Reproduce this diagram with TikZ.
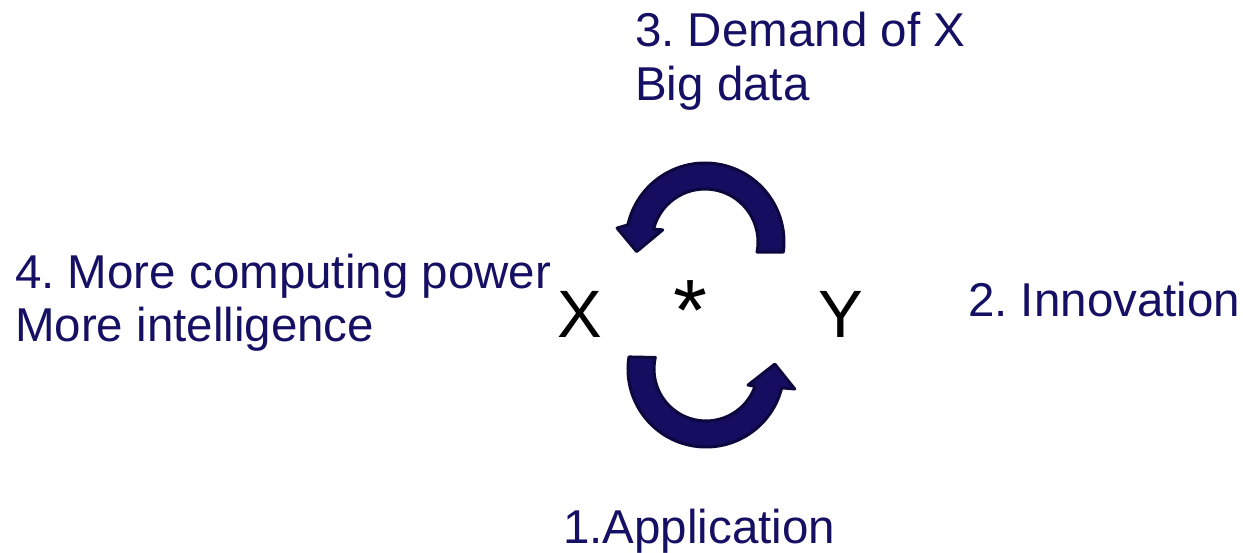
\documentclass[tikz,border=0pt]{standalone}
\usepackage{fontspec}
\setmainfont{Liberation Sans}
\frenchspacing
\definecolor{navytext}{RGB}{22,16,100}
\definecolor{arrowfill}{RGB}{20,13,96}
\definecolor{arrowline}{RGB}{12,8,62}
\begin{document}
\begin{tikzpicture}[x=1pt,y=-1pt,
  label/.style={inner sep=0pt,anchor=base west,align=left,text=navytext,
    font=\fontsize{47.5}{53.5}\selectfont},
  letter/.style={inner sep=0pt,anchor=base west,text=black,
    font=\fontsize{67}{70}\selectfont},
  cyclearrow/.style={fill=arrowfill,draw=arrowline,line width=3pt,line join=round}]
\useasboundingbox (0,0) rectangle (1243,553);
% labels (base anchor = baseline of the last line)
\node[label] (demand) at (635,100.5) {3. Demand of X\\Big data};
\node[label] (power) at (15,342) {4. More computing power\\More intelligence};
\node[label] (innov) at (968,317) {2. Innovation};
\node[label] (app) at (563,543) {1.Application};
% X * Y
\node[letter] (x) at (557,338) {X};
\node[inner sep=0pt,text=black,font=\fontsize{67}{70}\selectfont,scale=1.3] (star) at (690,311) {*};
\node[letter] (y) at (818,338) {Y};
% top curved arrow
\coordinate (c1) at (705,242);
\begin{scope}[shift={(c1)}]
\path[cyclearrow] (7.3:79) arc[start angle=7.3,end angle=-167.5,radius=79]
  -- (-171:89) -- (-188:69) -- (-164:44) -- (-166:53)
  arc[start angle=-166,end angle=10.9,radius=53] -- cycle;
\end{scope}
% bottom curved arrow
\coordinate (c2) at (706,369);
\begin{scope}[shift={(c2)}]
\path[cyclearrow] (188.9:78) arc[start angle=188.9,end angle=14,radius=78]
  -- (12.7:91) -- (-4.1:69) -- (20.9:45) -- (19.4:52)
  arc[start angle=19.4,end angle=192.8,radius=52] -- cycle;
\end{scope}
\end{tikzpicture}
\end{document}
